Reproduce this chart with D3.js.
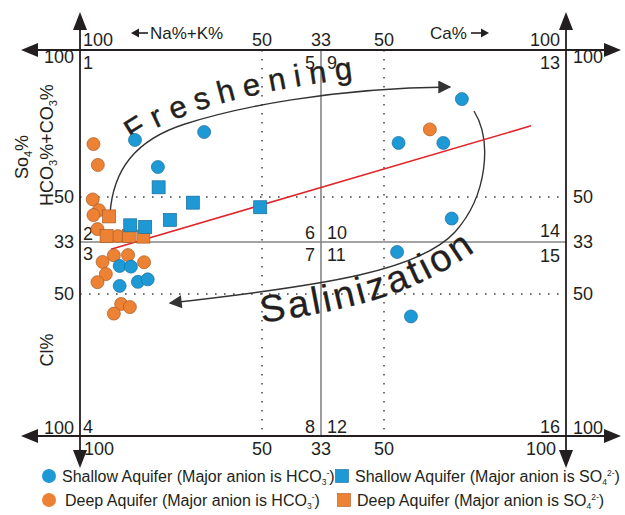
<!DOCTYPE html>
<html><head><meta charset="utf-8">
<script src="https://cdn.jsdelivr.net/npm/d3@7"></script>
<style>
body{margin:0;background:#fff}
svg{display:block}
text{font-family:"Liberation Sans",Arial,Helvetica,sans-serif;fill:#231f20}
</style>
</head><body>
<svg id="chart" width="625" height="515"></svg>
<script>
// ---------------- DATA ----------------
// x: negative = Na%+K% side (|x| is the percentage), positive = Ca% side
// y: positive = HCO3%+CO3% / SO4% upper half, negative = Cl% lower half (|y| is the percentage)
const shallowHCO3X = [-84.9,-78.6,-65.9,71.4,54.0,66.3,68.6,53.6,57.4,-89.1,-86.0,-89.1,-84.1,-81.4];
const shallowHCO3Y = [69.4,60.2,72.1,83.3,68.4,68.4,42.0,-36.5,-57.9,-41.0,-41.2,-47.4,-46.1,-45.3];
const shallowSO4X  = [-78.4,-69.0,-75.3,-86.2,-82.1,-50.5];
const shallowSO4Y  = [53.3,47.9,41.5,39.5,38.9,46.2];
const deepHCO3X    = [-96.3,-95.1,-96.5,-94.8,-96.3,-95.2,-89.6,-90.7,-86.8,-93.8,-82.4,-92.9,-95.2,-88.7,-86.3,-90.7,62.6];
const deepHCO3Y    = [68.0,60.9,49.1,45.1,43.3,38.1,35.5,-37.6,-37.5,-39.7,-39.8,-43.6,-46.2,-53.5,-54.6,-56.9,73.0];
const deepSO4X     = [-92.0,-92.7,-86.6,-82.6];
const deepSO4Y     = [42.8,35.5,35.5,35.3];
const trendX = [-91.5, 90.4];
const trendY = [-35.6, 74.2];

const xTickVals   = [-100,-50,-33.3,50,100];
const xTickLabels = ["100","50","33","50","100"];
const yTickVals   = [100,50,33.3,-50,-100];
const yTickLabels = ["100","50","33","50","100"];

const legendLabels = [
  ["Shallow Aquifer (Major anion is HCO","3","-",")"],
  ["Shallow Aquifer (Major anion is SO","4","2-",")"],
  ["Deep Aquifer (Major anion is HCO","3","-",")"],
  ["Deep Aquifer (Major anion is SO","4","2-",")"]
];

// ---------------- STYLE ----------------
const BLUE = "#1d9ad6", BLUE_S = "#1b6d99";
const ORANGE = "#ee8234", ORANGE_S = "#a85a25";
const INK = "#231f20";

const svg = d3.select("#chart");

const x = d3.scaleLinear().domain([-100,-50,-33.3,33.3,50,100]).range([80,262,321,321,384,566]);
const y = d3.scaleLinear().domain([-100,-50,-33.3,33.3,50,100]).range([436,294,242,242,197,50]);

const X0 = x(-100), X1 = x(100), Y0 = y(100), Y1 = y(-100), XM = x(33.3), YM = y(33.3);

// ---- dotted grid ----
const g = svg.append("g");
[-50,50].forEach(v => {
  g.append("line").attr("x1", x(v)).attr("x2", x(v)).attr("y1", Y0).attr("y2", Y1)
    .attr("stroke","#444").attr("stroke-width",1.5).attr("stroke-dasharray","1.6,7.4");
  g.append("line").attr("y1", y(v)).attr("y2", y(v)).attr("x1", X0).attr("x2", X1)
    .attr("stroke","#444").attr("stroke-width",1.5).attr("stroke-dasharray","1.6,7.4");
});
// ---- solid 33% lines ----
g.append("line").attr("x1",XM).attr("x2",XM).attr("y1",Y0).attr("y2",Y1).attr("stroke","#858585").attr("stroke-width",1.6);
g.append("line").attr("x1",X0).attr("x2",X1).attr("y1",YM).attr("y2",YM).attr("stroke","#858585").attr("stroke-width",1.6);

// ---- main axes with arrows ----
const ax = svg.append("g").attr("stroke",INK).attr("stroke-width",1.8).attr("fill",INK);
[Y0, Y1].forEach(yy => {
  ax.append("line").attr("x1",30).attr("x2",610).attr("y1",yy).attr("y2",yy);
  ax.append("path").attr("d",`M21,${yy} L38,${yy-7} L38,${yy+7} Z`).attr("stroke","none");
  ax.append("path").attr("d",`M621,${yy} L604,${yy-7} L604,${yy+7} Z`).attr("stroke","none");
});
[X0, X1].forEach(xx => {
  ax.append("line").attr("x1",xx).attr("x2",xx).attr("y1",24).attr("y2",458);
  ax.append("path").attr("d",`M${xx},12 L${xx-7},30 L${xx+7},30 Z`).attr("stroke","none");
  ax.append("path").attr("d",`M${xx},468 L${xx-7},450 L${xx+7},450 Z`).attr("stroke","none");
});

// ---- tick labels ----
const fs = 18;
const tl = svg.append("g").style("font-size", fs+"px");
xTickVals.forEach((v,i) => {
  const anchor = v===-100 ? "start" : v===100 ? "end" : "middle";
  const xx = x(v) + (v===-100 ? 3 : v===100 ? -6 : 0);
  tl.append("text").attr("x",xx).attr("y",Y0-4).attr("text-anchor",anchor).text(xTickLabels[i]);
  tl.append("text").attr("x",xx + (v===-100?1:v===100?-4:0)).attr("y",Y1+19).attr("text-anchor",anchor).text(xTickLabels[i]);
});
yTickVals.forEach((v,i) => {
  const yy = y(v) + (v===100 ? 13 : v===-100 ? -2 : 6);
  tl.append("text").attr("x",X0-6).attr("y",yy).attr("text-anchor","end").text(yTickLabels[i]);
  tl.append("text").attr("x",X1+7).attr("y",yy).attr("text-anchor","start").text(yTickLabels[i]);
});

// ---- field numbers ----
const cells = [
  ["1", X0+3, Y0+19, "start"], ["5", XM-6, Y0+19, "end"], ["9", XM+6, Y0+19, "start"], ["13", X1-6, Y0+19, "end"],
  ["2", X0+3, YM-2, "start"], ["6", XM-6, YM-3, "end"], ["10", XM+6, YM-3, "start"], ["14", X1-6, YM-5, "end"],
  ["3", X0+3, YM+18, "start"], ["7", XM-6, YM+19, "end"], ["11", XM+6, YM+19, "start"], ["15", X1-6, YM+20, "end"],
  ["4", X0+3, Y1-3, "start"], ["8", XM-6, Y1-3, "end"], ["12", XM+6, Y1-3, "start"], ["16", X1-6, Y1-3, "end"]
];
cells.forEach(c => tl.append("text").attr("x",c[1]).attr("y",c[2]).attr("text-anchor",c[3]).text(c[0]));

// ---- axis titles ----
const at = svg.append("g").style("font-size","17px");
at.append("text").attr("x",150).attr("y",39).text("Na%+K%");
at.append("line").attr("x1",136).attr("x2",148).attr("y1",33).attr("y2",33).attr("stroke",INK).attr("stroke-width",1.6);
at.append("path").attr("d","M131,33 L139,28.5 L139,37.5 Z").attr("fill",INK);
at.append("text").attr("x",430).attr("y",39).text("Ca%");
at.append("line").attr("x1",471).attr("x2",483).attr("y1",33).attr("y2",33).attr("stroke",INK).attr("stroke-width",1.6);
at.append("path").attr("d","M489,33 L481,28.5 L481,37.5 Z").attr("fill",INK);

function vText(xb, yc, parts){
  const t = svg.append("text").attr("transform",`translate(${xb},${yc}) rotate(-90)`)
     .attr("text-anchor","middle").style("font-size","18px");
  parts.forEach(p => {
    if (p.sub) t.append("tspan").attr("dy",4).style("font-size","11px").text(p.t);
    else t.append("tspan").attr("dy", p.back ? -4 : 0).text(p.t);
  });
}
vText(28, 157, [{t:"So"},{t:"4",sub:true},{t:"%",back:true}]);
vText(53, 145, [{t:"HCO"},{t:"3",sub:true},{t:"%+CO",back:true},{t:"3",sub:true},{t:"%",back:true}]);
vText(53, 350, [{t:"Cl%"}]);

// ---- process curves ----
const defs = svg.append("defs");
defs.append("marker").attr("id","ah").attr("viewBox","0 0 10 10").attr("refX",9).attr("refY",5)
  .attr("markerWidth",15).attr("markerHeight",13).attr("markerUnits","userSpaceOnUse").attr("orient","auto")
  .append("path").attr("d","M0,0 L10,5 L0,10 Z").attr("fill","#333");
svg.append("path").attr("d","M110,214 C113,170 135,140 185,124 C235,108 330,88 450,87")
  .attr("fill","none").attr("stroke","#333").attr("stroke-width",1.4).attr("marker-end","url(#ah)");
svg.append("path").attr("d","M474,111 C492,140 488,195 455,232 C420,270 330,285 170,303")
  .attr("fill","none").attr("stroke","#333").attr("stroke-width",1.4).attr("marker-end","url(#ah)");

defs.append("path").attr("id","fp").attr("d","M133,143 C175,111 262,87 390,74");
defs.append("path").attr("id","sp").attr("d","M262,323 C340,310 420,300 500,232");
svg.append("text").style("font-size","31px").style("letter-spacing","8.5px")
  .style("stroke","#231f20").style("stroke-width","0.4px")
  .append("textPath").attr("href","#fp").text("Freshening");
svg.append("text").style("font-size","38px").style("letter-spacing","3px")
  .style("stroke","#231f20").style("stroke-width","0.3px")
  .append("textPath").attr("href","#sp").text("Salinization");

// ---- trend line ----
svg.append("line").attr("x1",x(trendX[0])).attr("y1",y(trendY[0])).attr("x2",x(trendX[1])).attr("y2",y(trendY[1]))
  .attr("stroke","#e0262b").attr("stroke-width",1.6);

// ---- points ----
const R = 6.5, S = 13;
function circles(xs, ys, fill, stroke){
  svg.append("g").selectAll("circle").data(xs.map((v,i)=>[v,ys[i]])).join("circle")
    .attr("cx",d=>x(d[0])).attr("cy",d=>y(d[1])).attr("r",R)
    .attr("fill",fill).attr("stroke",stroke).attr("stroke-width",0.7);
}
function squares(xs, ys, fill, stroke){
  svg.append("g").selectAll("rect").data(xs.map((v,i)=>[v,ys[i]])).join("rect")
    .attr("x",d=>x(d[0])-S/2).attr("y",d=>y(d[1])-S/2).attr("width",S).attr("height",S)
    .attr("fill",fill).attr("stroke",stroke).attr("stroke-width",0.7);
}
circles(deepHCO3X, deepHCO3Y, ORANGE, ORANGE_S);
squares(deepSO4X, deepSO4Y, ORANGE, ORANGE_S);
circles(shallowHCO3X, shallowHCO3Y, BLUE, BLUE_S);
squares(shallowSO4X, shallowSO4Y, BLUE, BLUE_S);

// ---- legend ----
const lg = svg.append("g").style("font-size","16px");
const rows = [
  {sym:"c", fill:BLUE,   st:BLUE_S,   sx:49,  tx:62,  y:476, lab:legendLabels[0]},
  {sym:"s", fill:BLUE,   st:BLUE_S,   sx:342, tx:355, y:476, lab:legendLabels[1]},
  {sym:"c", fill:ORANGE, st:ORANGE_S, sx:49,  tx:65,  y:500, lab:legendLabels[2]},
  {sym:"s", fill:ORANGE, st:ORANGE_S, sx:344, tx:357, y:500, lab:legendLabels[3]}
];
rows.forEach(r => {
  if (r.sym==="c") lg.append("circle").attr("cx",r.sx).attr("cy",r.y).attr("r",7).attr("fill",r.fill);
  else lg.append("rect").attr("x",r.sx-6.5).attr("y",r.y-6.5).attr("width",13).attr("height",13).attr("fill",r.fill).attr("stroke",r.st).attr("stroke-width",0.6);
  const t = lg.append("text").attr("x",r.tx).attr("y",r.y+5.5);
  t.append("tspan").text(r.lab[0]);
  t.append("tspan").attr("dy",3).style("font-size","8.5px").text(r.lab[1]);
  t.append("tspan").attr("dy",-9).style("font-size","8.5px").text(r.lab[2]);
  t.append("tspan").attr("dy",6).text(r.lab[3]);
});
</script>
</body></html>
